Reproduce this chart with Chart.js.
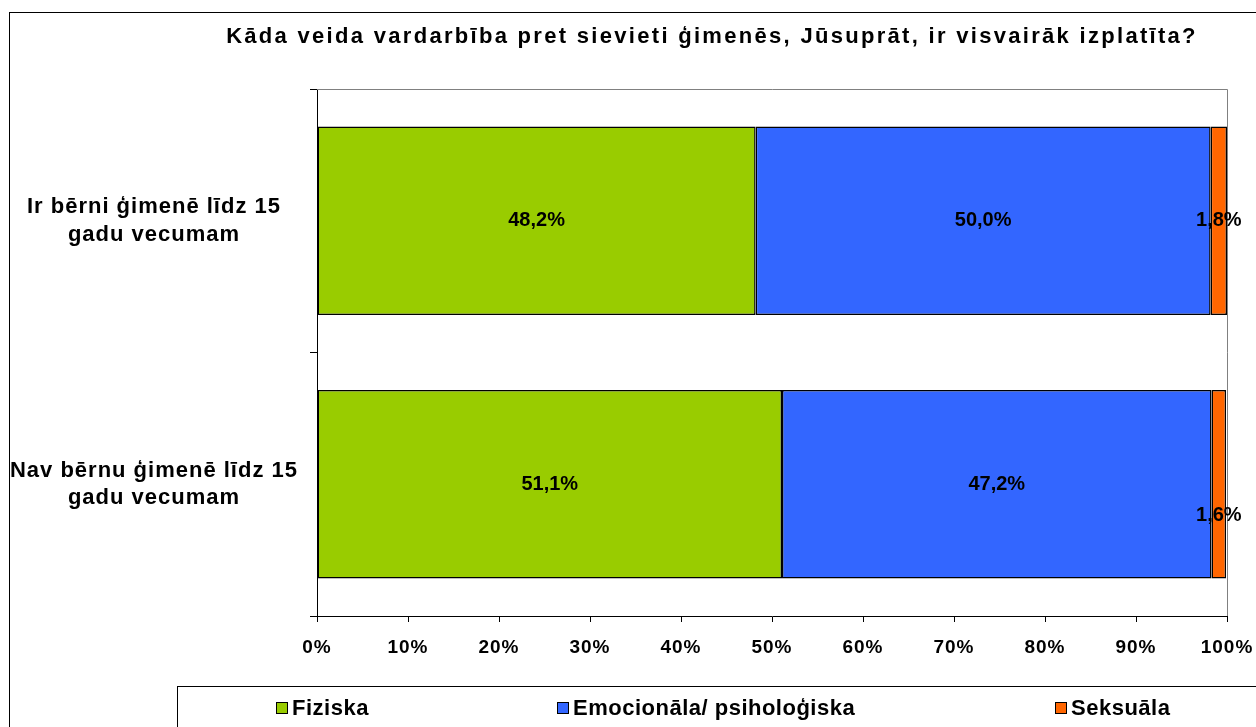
<!DOCTYPE html>
<html lang="lv">
<head>
<meta charset="UTF-8">
<title>Vardarbība ģimenē</title>
<script src="https://cdn.jsdelivr.net/npm/chart.js"></script>
<style>
    body { margin: 0; background: #fff; }
    canvas { display: block; }
</style>
</head>
<body>
<canvas id="grafiks" width="1256" height="727"></canvas>

<script>
    // dati
    const virsraksts = 'Kāda veida vardarbība pret sievieti ģimenēs, Jūsuprāt, ir visvairāk izplatīta?';
    const kategorijas = [
        ['Ir bērni ģimenē līdz 15', 'gadu vecumam'],
        ['Nav bērnu ģimenē līdz 15', 'gadu vecumam']
    ];
    const veidi = ['Fiziska', 'Emocionāla/ psiholoģiska', 'Seksuāla'];
    const fiziska = [48.2, 51.1];
    const emocionala = [50.0, 47.2];
    const seksuala = [1.8, 1.6];
    const asuTiki = [0, 10, 20, 30, 40, 50, 60, 70, 80, 90, 100];

    const krasas = ['#99CC00', '#3366FF', '#FF6600'];
    const fonts = '"Liberation Sans", Arial, sans-serif';
    const atstarpe = '1px';

    Chart.defaults.font.family = fonts;
    Chart.defaults.color = '#000';

    function procenti(v) {
        return v.toFixed(1).replace('.', ',') + '%';
    }

    // rāmji, virsraksts, leģenda, vērtību uzraksti
    const zimejumi = {
        id: 'zimejumi',
        beforeUpdate(chart) {
            chart.ctx.letterSpacing = atstarpe;
        },
        beforeDraw(chart) {
            const ctx = chart.ctx;
            ctx.save();
            ctx.fillStyle = '#fff';
            ctx.fillRect(0, 0, chart.width, chart.height);
            ctx.strokeStyle = '#000';
            ctx.lineWidth = 1;
            ctx.strokeRect(9.5, 12.5, 2000, 2000);

            ctx.font = 'bold 22px ' + fonts;
            ctx.letterSpacing = '2.3px';
            ctx.textAlign = 'center';
            ctx.textBaseline = 'middle';
            ctx.fillStyle = '#000';
            ctx.fillText(virsraksts, 712, 37);
            ctx.restore();
            ctx.letterSpacing = atstarpe;
        },
        beforeDatasetsDraw(chart) {
            const a = chart.chartArea;
            const ctx = chart.ctx;
            ctx.save();
            ctx.strokeStyle = '#808080';
            ctx.lineWidth = 1;
            ctx.beginPath();
            ctx.moveTo(a.left, a.top + 0.5);
            ctx.lineTo(a.right + 0.5, a.top + 0.5);
            ctx.lineTo(a.right + 0.5, a.bottom);
            ctx.stroke();
            ctx.restore();
        },
        afterDraw(chart) {
            const ctx = chart.ctx;
            ctx.save();
            // vērtības joslās
            ctx.font = 'bold 20px ' + fonts;
            ctx.letterSpacing = '0px';
            ctx.textAlign = 'center';
            ctx.textBaseline = 'middle';
            ctx.fillStyle = '#000';
            chart.data.datasets.forEach(function (ds, i) {
                chart.getDatasetMeta(i).data.forEach(function (bar, j) {
                    let y = bar.y;
                    if (i === 2 && j === 1) y += 31;
                    ctx.fillText(procenti(ds.data[j]), (bar.x + bar.base) / 2, y);
                });
            });

            // leģenda
            ctx.strokeStyle = '#000';
            ctx.lineWidth = 1;
            ctx.fillStyle = '#fff';
            ctx.fillRect(177.5, 686.5, 2000, 200);
            ctx.strokeRect(177.5, 686.5, 2000, 200);
            const legX = [276, 557, 1055];
            ctx.font = 'bold 22px ' + fonts;
            ctx.letterSpacing = '0.5px';
            ctx.textAlign = 'left';
            chart.data.datasets.forEach(function (ds, i) {
                ctx.fillStyle = ds.backgroundColor;
                ctx.fillRect(legX[i] + 0.5, 702.5, 11, 11);
                ctx.strokeRect(legX[i] + 0.5, 702.5, 11, 11);
                ctx.fillStyle = '#000';
                ctx.fillText(ds.label, legX[i] + 16, 709);
            });
            ctx.restore();
            ctx.letterSpacing = atstarpe;
        }
    };

    const datasets = [fiziska, emocionala, seksuala].map(function (vertibas, i) {
        return {
            label: veidi[i],
            data: vertibas,
            backgroundColor: krasas[i],
            borderColor: '#000',
            borderWidth: 1.5,
            borderSkipped: false,
            barPercentage: 0.716,
            categoryPercentage: 1
        };
    });

    new Chart(document.getElementById('grafiks'), {
        type: 'bar',
        data: { labels: kategorijas, datasets: datasets },
        options: {
            indexAxis: 'y',
            responsive: false,
            devicePixelRatio: 1,
            animation: false,
            layout: { padding: { top: 89, right: 29, bottom: 0, left: 0 } },
            plugins: {
                legend: { display: false },
                title: { display: false },
                tooltip: { enabled: false }
            },
            scales: {
                x: {
                    stacked: true,
                    min: 0,
                    max: 100,
                    afterBuildTicks(scale) {
                        scale.ticks = asuTiki.map(function (v) { return { value: v }; });
                    },
                    afterFit(scale) {
                        scale.height = 111;
                        scale.paddingLeft = 0;
                        scale.paddingRight = 0;
                    },
                    ticks: {
                        font: { size: 19, weight: 'bold' },
                        padding: 14,
                        maxRotation: 0,
                        callback: function (v) { return v + '%'; }
                    },
                    grid: { drawOnChartArea: false, tickLength: 6, color: '#000' },
                    border: { color: '#000', width: 1 }
                },
                y: {
                    stacked: true,
                    afterFit(scale) { scale.width = 317; },
                    ticks: {
                        font: { size: 22, weight: 'bold', lineHeight: 1.25 },
                        crossAlign: 'center',
                        padding: 12
                    },
                    grid: { drawOnChartArea: false, tickLength: 7, color: '#000' },
                    border: { color: '#000', width: 1 }
                }
            }
        },
        plugins: [zimejumi]
    });
</script>
</body>
</html>
